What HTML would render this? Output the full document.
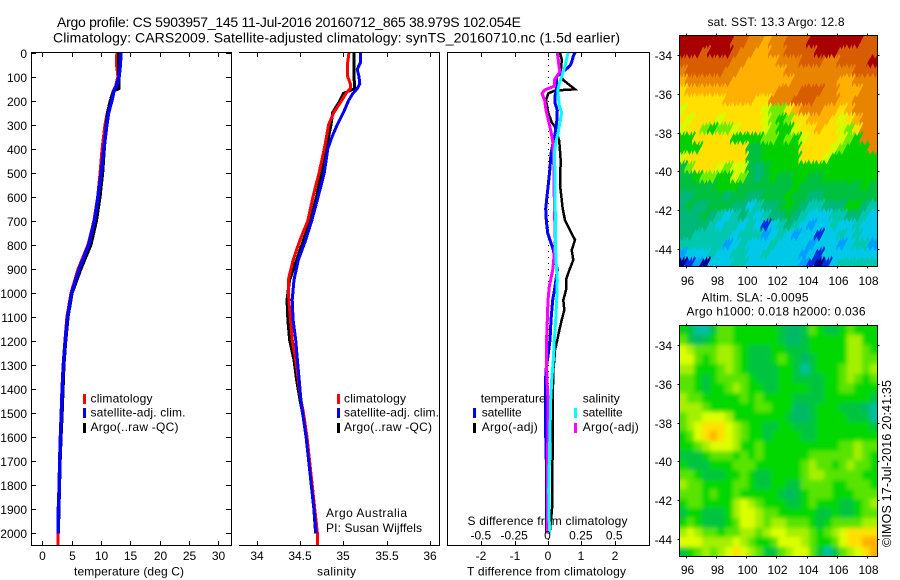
<!DOCTYPE html>
<html lang="en">
<head>
<meta charset="utf-8">
<title>Argo profile 5903957_145</title>
<style>
html,body{margin:0;padding:0;background:#fff}
svg{display:block}
text{font-family:"Liberation Sans",sans-serif;fill:#000}
</style>
</head>
<body>
<svg id="chart" xmlns="http://www.w3.org/2000/svg" width="900" height="580" viewBox="0 0 900 580">
<rect x="0" y="0" width="900" height="580" fill="#fff"/>
<text x="57" y="27" font-size="14" textLength="464" lengthAdjust="spacing">Argo profile: CS 5903957_145 11-Jul-2016 20160712_865 38.979S 102.054E</text>
<text x="53" y="42.5" font-size="14" textLength="567" lengthAdjust="spacing">Climatology: CARS2009. Satellite-adjusted climatology: synTS_20160710.nc (1.5d earlier)</text>

<text x="74" y="575.5" font-size="12" textLength="110" lengthAdjust="spacing">temperature (deg C)</text>
<text x="317" y="575.5" font-size="12" textLength="39" lengthAdjust="spacing">salinity</text>
<text x="467" y="575.5" font-size="12" textLength="159" lengthAdjust="spacing">T difference from climatology</text>
<text x="467.5" y="525" font-size="12" textLength="160" lengthAdjust="spacing">S difference from climatology</text>

<text x="326" y="517" font-size="12" textLength="81" lengthAdjust="spacing">Argo Australia</text>
<text x="326" y="532" font-size="12" textLength="96" lengthAdjust="spacing">PI: Susan Wijffels</text>

<g>
<rect x="83" y="394" width="3" height="10" fill="#ff0000"/>
<text x="90.5" y="402.7" font-size="12" textLength="62" lengthAdjust="spacing">climatology</text>
<rect x="83" y="408" width="3" height="10" fill="#0000ff"/>
<text x="90.5" y="416.7" font-size="12" textLength="95" lengthAdjust="spacing">satellite-adj. clim.</text>
<rect x="83" y="423" width="3" height="10" fill="#000"/>
<text x="90.5" y="431" font-size="12" textLength="88" lengthAdjust="spacing">Argo(..raw -QC)</text>
</g>
<g>
<rect x="337" y="394" width="3" height="10" fill="#ff0000"/>
<text x="344" y="402.7" font-size="12" textLength="62" lengthAdjust="spacing">climatology</text>
<rect x="337" y="408" width="3" height="10" fill="#0000ff"/>
<text x="344" y="416.7" font-size="12" textLength="95" lengthAdjust="spacing">satellite-adj. clim.</text>
<rect x="337" y="423" width="3" height="10" fill="#000"/>
<text x="344" y="431" font-size="12" textLength="88" lengthAdjust="spacing">Argo(..raw -QC)</text>
</g>

<text x="707.5" y="26" font-size="12" textLength="137" lengthAdjust="spacing">sat. SST: 13.3 Argo: 12.8</text>
<text x="701.5" y="301.7" font-size="12" textLength="107" lengthAdjust="spacing">Altim. SLA: -0.0095</text>
<text x="686.5" y="315.7" font-size="12" textLength="179" lengthAdjust="spacing">Argo h1000: 0.018 h2000: 0.036</text>
<text transform="translate(891,547) rotate(-90)" x="0" y="0" font-size="12.5" textLength="167" lengthAdjust="spacing">©IMOS 17-Jul-2016 20:41:35</text>
</svg>
<script>
// ---- profile values ----
const depthTicks = [0,100,200,300,400,500,600,700,800,900,1000,1100,1200,1300,1400,1500,1600,1700,1800,1900,2000];
const tempTicks = [0,5,10,15,20,25,30];
const salTicks = [34,34.5,35,35.5,36];
const salTickLabels = ['34','34.5','35','35.5','36'];
const tDiffTicks = [-2,-1,0,1,2];
const sDiffTicks = [-0.5,-0.25,0,0.25,0.5];
const sDiffTickLabels = ['-0.5','-0.25','0','0.25','0.5'];
const lonTicks = [96,98,100,102,104,106,108];
const latTicks = [-34,-36,-38,-40,-42,-44];

const tempDepths = [0,50,100,140,150,160,175,200,250,300,400,500,600,700,800,900,1000,1100,1200,1300,1400,1500,1600,1700,1800,1900,2000,2050];
const tempClim = [12.7,12.65,12.9,12.5,12.3,12.1,11.9,11.7,11.1,10.7,10.2,9.85,9.45,8.8,7.8,6.1,4.9,4.2,3.85,3.55,3.35,3.2,3.05,2.93,2.85,2.72,2.67,2.67];
const tempArgo = [13.0,13.0,13.05,13.05,13.05,12.2,11.9,11.6,11.1,10.9,10.6,10.3,9.85,9.25,8.3,6.6,5.1,4.4,4.0,3.7,3.55,3.4,3.2,3.05,2.95,2.85,2.75];
const tempSat = [13.4,13.3,13.1,12.6,12.4,12.2,12.1,11.85,11.3,11.0,10.5,10.05,9.5,8.9,7.9,6.3,5.0,4.3,3.9,3.6,3.4,3.25,3.1,2.97,2.9,2.75,2.7];

const salDepths = [0,40,70,100,130,150,170,200,250,300,350,400,500,600,700,780,863,946,1029,1113,1196,1279,1362,1445,1500,1600,1700,1800,1900,2000,2050];
const salClim = [35.065,35.05,35.045,35.05,35.08,35.08,35.03,34.98,34.89,34.83,34.805,34.78,34.72,34.65,34.59,34.5,34.42,34.365,34.37,34.39,34.41,34.45,34.48,34.51,34.54,34.58,34.61,34.64,34.67,34.7,34.7];
const salArgo = [35.12,35.12,35.12,35.12,35.13,35.13,35.0,34.96,34.877,34.857,34.83,34.81,34.75,34.69,34.62,34.54,34.46,34.38,34.35,34.36,34.38,34.43,34.46,34.5,34.53,34.57,34.6,34.63,34.66,34.68];
const salSat = [35.2,35.2,35.16,35.18,35.19,35.16,35.11,35.06,35.0,34.93,34.87,34.82,34.78,34.71,34.635,34.565,34.48,34.43,34.41,34.42,34.45,34.47,34.49,34.51,34.53,34.57,34.6,34.63,34.66,34.685];

const tDiffArgoDepths = [0,30,60,90,115,153,158,170,200,250,290,310,330,370,450,550,650,697,739,780,822,863,905,946,988,1030,1071,1113,1155,1196,1238,1280,1321,1445,1600,1800,1900,2000];
const tDiffArgo = [0.36,0.41,0.40,0.36,0.46,0.81,0.21,0.01,-0.06,0.01,0.11,0.21,0.26,0.34,0.38,0.36,0.44,0.51,0.66,0.81,0.71,0.76,0.64,0.54,0.54,0.46,0.49,0.41,0.34,0.28,0.21,0.19,0.16,0.14,0.14,0.13,0.12,0.05];
const tDiffSatDepths = [0,15,40,55,70,85,100,150,180,210,240,290,340,370,420,480,550,610,650,697,752,780,822,905,974,1030,1113,1196,1252,1321,1390,1520,1700,2000];
const tDiffSat = [0.81,0.76,0.71,0.66,0.54,0.38,0.26,0.26,0.21,0.21,0.28,0.26,0.21,0.16,0.09,0.06,0.01,-0.04,-0.07,-0.05,-0.01,0.06,0.16,0.28,0.21,0.14,0.09,0.06,0.01,-0.06,-0.08,-0.08,-0.05,-0.05];
const sDiffSatDepths = [0,15,40,70,100,130,160,180,220,250,290,330,370,420,500,690,780,863,946,1030,1113,1196,1280,1362,1445,1820,1960,2000];
const sDiffSat = [0.1525,0.145,0.135,0.12,0.1025,0.085,0.0725,0.0775,0.085,0.1025,0.09,0.0775,0.06,0.0475,0.0525,0.055,0.055,0.06,0.07,0.065,0.0575,0.0475,0.04,0.0275,0.02,0.005,0.01,0.01];
const sDiffArgoDepths = [0,30,60,80,100,115,140,155,170,200,240,280,330,370,450,550,690,780,850,905,974,1030,1113,1182,1321,1390,1445,1960,2000];
const sDiffArgo = [0.07,0.0775,0.0825,0.09,0.065,0.0475,0.0475,-0.0225,-0.045,-0.025,-0.015,0.0025,0.0225,0.035,0.0425,0.045,0.05,0.055,0.045,0.035,0.01,0,-0.005,-0.01,-0.01,-0.005,0,-0.005,-0.005];

// ---- map values: colour-class per grid cell, north to south ----
const sstGrid = [
[14,14,14,14,14,14,14,13,13,12,12,11,12,12,13,13,13,14,14,14,14,14,14,14,13,13],
[14,14,14,13,14,14,14,13,12,12,11,11,12,12,13,13,13,13,14,14,14,13,13,13,13,13],
[13,13,13,13,13,13,13,12,12,11,11,11,11,12,12,12,13,13,13,12,12,13,13,13,13,14],
[12,13,13,13,13,13,12,12,11,11,11,11,11,11,12,12,12,12,12,12,12,12,12,13,13,13],
[11,12,12,12,12,12,12,11,11,11,11,11,11,11,11,12,12,12,12,12,12,11,11,12,12,12],
[10,11,11,11,11,11,11,11,11,11,11,11,11,12,12,12,13,13,13,12,12,11,11,11,12,12],
[10,10,10,10,10,10,11,11,11,11,10,10,12,12,12,13,13,13,12,12,12,11,11,12,12,12],
[9,10,10,10,10,10,10,10,10,10,10,9,8,8,10,11,12,12,12,11,11,10,11,12,12,12],
[10,9,10,10,10,9,10,10,10,10,10,9,8,7,8,10,10,11,11,11,10,9,10,11,12,12],
[9,10,10,8,7,8,8,9,10,10,10,9,8,7,7,9,10,10,11,10,10,9,8,10,12,12],
[7,7,10,10,10,10,10,7,7,7,7,8,8,7,8,7,9,10,10,10,10,9,8,7,12,12],
[7,7,7,10,10,10,10,10,10,6,6,7,7,7,7,7,10,10,10,10,9,8,7,7,7,12],
[9,10,10,10,10,10,10,10,10,6,6,7,7,7,7,7,10,10,10,9,7,7,7,7,7,7],
[6,8,10,10,10,9,8,9,9,6,5,6,7,7,7,7,7,7,7,7,7,7,7,7,7,7],
[6,6,7,8,8,7,7,9,8,6,5,6,7,6,6,7,7,6,6,7,7,7,7,7,7,7],
[6,6,6,6,6,7,7,7,6,6,6,6,6,6,6,7,6,6,6,6,6,6,6,6,7,6],
[5,5,6,6,6,6,5,6,6,5,5,6,6,6,7,6,6,5,5,6,6,6,6,6,6,6],
[5,6,5,5,6,6,6,5,5,3,4,5,5,6,7,6,5,4,4,5,5,5,7,7,5,4],
[5,5,5,6,5,4,3,4,5,4,3,4,5,5,6,5,4,3,3,3,4,4,5,5,4,3],
[5,5,5,5,4,3,4,4,3,4,3,1,3,4,5,4,3,2,3,3,4,3,3,4,3,3],
[5,5,4,4,4,4,4,3,4,4,4,2,3,4,3,2,3,3,1,3,3,4,3,4,3,3],
[4,4,4,4,4,4,2,3,4,3,3,3,4,3,3,3,3,2,3,3,3,2,3,4,4,2],
[2,3,3,3,4,3,3,4,4,3,3,4,3,3,3,3,2,3,1,3,3,3,3,3,3,3],
[0,1,2,0,3,3,3,4,4,3,3,3,3,3,3,3,2,1,0,1,3,4,4,4,4,4]
];
const slaGrid = [
[4,3,1,1,3,5,5,4,4,4,4,4,4,3,2,2,3,5,4,3,3,4,5,4,4,4],
[5,3,2,3,4,5,5,4,4,4,4,4,4,3,2,2,3,4,4,4,4,4,6,6,4,4],
[7,6,5,5,5,6,6,5,4,3,3,3,4,4,3,3,3,4,4,4,4,4,6,6,5,4],
[7,7,5,4,5,6,6,5,4,3,3,3,4,5,4,3,2,3,4,4,4,4,6,6,5,5],
[6,6,4,4,4,5,6,5,4,3,3,3,3,4,4,3,1,3,4,4,4,5,6,6,5,6],
[5,5,4,3,4,5,5,5,5,4,3,3,3,4,4,3,3,3,3,4,4,5,6,5,4,5],
[5,5,4,3,4,4,5,6,5,4,4,3,3,4,4,4,4,3,3,4,4,5,5,4,4,4],
[6,5,5,4,4,4,4,4,5,4,5,4,4,4,4,3,3,3,3,4,4,4,4,4,4,3],
[6,6,6,5,4,4,4,4,4,4,5,5,4,4,4,2,2,3,4,4,4,3,3,3,2,1],
[5,6,6,7,7,7,6,4,4,4,4,4,4,4,3,2,2,3,4,4,4,4,3,3,3,1],
[5,6,7,8,8,8,7,6,5,4,4,3,3,4,4,3,3,3,4,4,4,4,4,4,4,3],
[4,5,7,8,9,8,7,6,5,4,4,3,4,4,4,4,3,3,4,4,4,4,4,4,4,4],
[4,4,5,6,7,7,7,6,4,4,5,4,4,4,4,4,4,4,4,4,4,5,5,6,5,5],
[3,3,3,4,5,5,5,4,5,4,5,4,4,4,4,4,4,5,5,5,5,5,5,6,5,4],
[4,3,3,3,4,4,4,5,5,5,4,4,4,4,4,4,5,6,5,5,4,5,6,5,5,4],
[5,5,4,3,3,3,4,4,5,4,3,3,4,4,4,4,5,6,6,5,5,5,5,5,4,4],
[6,5,5,4,4,4,4,5,5,4,3,3,4,4,3,3,5,5,5,5,4,4,5,5,5,4],
[5,5,5,4,5,4,4,5,4,4,4,4,4,3,2,3,4,5,5,5,4,4,4,5,5,5],
[4,5,5,4,4,4,4,6,7,6,5,4,4,4,3,3,4,5,4,4,4,3,3,4,5,6],
[3,4,4,3,3,3,4,6,7,7,6,5,5,4,4,4,4,4,3,3,4,3,3,4,5,5],
[4,5,4,3,3,3,4,5,7,7,6,5,6,6,5,5,5,4,3,4,5,5,5,5,6,6],
[6,7,6,5,5,4,5,5,6,6,5,6,7,7,6,6,6,5,4,5,6,7,8,8,8,8],
[7,7,7,6,6,6,6,7,6,5,4,4,5,7,7,7,6,5,4,4,5,7,8,8,9,9],
[3,4,5,6,5,6,7,8,7,6,5,3,3,5,6,7,7,5,3,1,3,5,6,7,8,9]
];

const SVGNS = 'http://www.w3.org/2000/svg';
const svg = document.getElementById('chart');

// axis functions
function yDepth(d){ return 52.5 + d * 0.2404; }
function xTemp(t){ return 42.3 + t * 5.863; }
function xSal(s){ return 256.7 + (s - 34) * 86.67; }
function xTDiff(d){ return 548 + d * 33.33; }
function xSDiff(d){ return 548 + d * 133.33; }
function xLon(lon){ return 686.3 + (lon - 96) * 15.03; }
function yLatSst(lat){ return 55 + (-34 - lat) * 19.4; }
function yLatSla(lat){ return 345 + (-34 - lat) * 19.4; }

function make(tag, attrs, parent){
  const el = document.createElementNS(SVGNS, tag);
  for (const k in attrs) el.setAttribute(k, attrs[k]);
  parent.appendChild(el);
  return el;
}
function hLine(x1, x2, y, parent){
  return make('line', {x1:x1, x2:x2, y1:y, y2:y, stroke:'#000', 'stroke-width':1, 'shape-rendering':'crispEdges'}, parent);
}
function vLine(x, y1, y2, parent){
  return make('line', {x1:x, x2:x, y1:y1, y2:y2, stroke:'#000', 'stroke-width':1, 'shape-rendering':'crispEdges'}, parent);
}
function label(str, x, y, anchor, parent){
  const t = make('text', {x:x, y:y, 'text-anchor':anchor, 'font-size':12}, parent);
  t.textContent = str;
  return t;
}
function profile(depths, values, xFn, color, width, name, parent){
  const pts = values.map(function(v, i){ return xFn(v).toFixed(1) + ',' + yDepth(depths[i]).toFixed(1); }).join(' ');
  const line = make('polyline', {points:pts, fill:'none', stroke:color, 'stroke-width':width, 'stroke-linejoin':'miter', 'shape-rendering':'crispEdges'}, parent);
  
  
  return line;
}

// ---- left temperature panel ----
const tempPanel = make('g', {}, svg);


profile(tempDepths, tempClim, xTemp, '#ff0000', 3, 'temperature-climatology-line', tempPanel);
profile(tempDepths, tempArgo, xTemp, '#000000', 3, 'temperature-argo-line', tempPanel);
profile(tempDepths, tempSat, xTemp, '#0000ff', 3.5, 'temperature-satellite-line', tempPanel);
const tempFrame = make('rect', {x:31.5, y:52.5, width:200, height:493, fill:'none', stroke:'#000', 'shape-rendering':'crispEdges'}, tempPanel);


depthTicks.forEach(function(d){
  const y = Math.round(yDepth(d)) + 0.5;
  const left = hLine(31.5, 36, y, tempPanel);
  
  
  const right = hLine(226, 231.5, y, tempPanel);
  
  
  const lab = label(String(d), 27, y + 4.5, 'end', tempPanel);
  
  
});
tempTicks.forEach(function(t){
  const x = Math.round(xTemp(t)) + 0.5;
  const top = vLine(x, 52.5, 57, tempPanel);
  
  
  const bot = vLine(x, 541, 545.5, tempPanel);
  
  
  const lab = label(String(t), x, 560, 'middle', tempPanel);
  
  
});

// ---- salinity panel ----
const salPanel = make('g', {}, svg);


profile(salDepths, salArgo, xSal, '#000000', 3, 'salinity-argo-line', salPanel);
profile(salDepths, salClim, xSal, '#ff0000', 3, 'salinity-climatology-line', salPanel);
profile(salDepths, salSat, xSal, '#0000ff', 3, 'salinity-satellite-line', salPanel);
const salFrame = make('path', {d:'M239 52.5H439.5V545.5H239', fill:'none', stroke:'#000', 'shape-rendering':'crispEdges'}, salPanel);


salTicks.forEach(function(s, i){
  const x = Math.round(xSal(s)) + 0.5;
  const top = vLine(x, 52.5, 57, salPanel);
  
  
  const bot = vLine(x, 541, 545.5, salPanel);
  
  
  const lab = label(salTickLabels[i], x - 0.5, 560, 'middle', salPanel);
  
  
});

// ---- difference panel ----
const diffPanel = make('g', {}, svg);


const zeroLine = make('line', {x1:xTDiff(0)+0.5, x2:xTDiff(0)+0.5, y1:53, y2:545, stroke:'#000', 'stroke-width':1, 'stroke-dasharray':'1 5', 'shape-rendering':'crispEdges'}, diffPanel);


profile(tDiffArgoDepths, tDiffArgo, xTDiff, '#000000', 2.5, 't-difference-argo-line', diffPanel);
profile(tDiffSatDepths, tDiffSat, xTDiff, '#0000ff', 3, 't-difference-satellite-line', diffPanel);
profile(sDiffArgoDepths, sDiffArgo, xSDiff, '#ff00ff', 3, 's-difference-argo-line', diffPanel);
profile(sDiffSatDepths, sDiffSat, xSDiff, '#00ffff', 3, 's-difference-satellite-line', diffPanel);
const diffFrame = make('rect', {x:447.5, y:52.5, width:202, height:493, fill:'none', stroke:'#000', 'shape-rendering':'crispEdges'}, diffPanel);


tDiffTicks.forEach(function(d){
  const x = Math.round(xTDiff(d)) + 0.5;
  const top = vLine(x, 52.5, 57, diffPanel);
  
  
  const bot = vLine(x, 541, 545.5, diffPanel);
  
  
  const lab = label(String(d), x - 0.5, 560, 'middle', diffPanel);
  
  
});
sDiffTicks.forEach(function(d, i){
  const lab = label(sDiffTickLabels[i], xSDiff(d) - 0.5, 539.3, 'middle', diffPanel);
  
  
});

// ---- diff legend ----
const diffLegend = make('g', {}, svg);


const lg1 = make('text', {x:480.7, y:402.7, 'font-size':12, textLength:65, lengthAdjust:'spacing'}, diffLegend);
lg1.textContent = 'temperature';


const lg2 = make('text', {x:582.7, y:402.7, 'font-size':12, textLength:37, lengthAdjust:'spacing'}, diffLegend);
lg2.textContent = 'salinity';


const lg3 = make('rect', {x:473, y:408, width:3, height:10, fill:'#0000ff'}, diffLegend);


const lg4 = make('text', {x:481.7, y:416.7, 'font-size':12, textLength:40, lengthAdjust:'spacing'}, diffLegend);
lg4.textContent = 'satellite';


const lg5 = make('rect', {x:473, y:423, width:3, height:10, fill:'#000'}, diffLegend);


const lg6 = make('text', {x:481.7, y:431, 'font-size':12, textLength:56, lengthAdjust:'spacing'}, diffLegend);
lg6.textContent = 'Argo(-adj)';


const lg7 = make('rect', {x:574, y:408, width:3, height:10, fill:'#00ffff'}, diffLegend);


const lg8 = make('text', {x:582.7, y:416.7, 'font-size':12, textLength:40, lengthAdjust:'spacing'}, diffLegend);
lg8.textContent = 'satellite';


const lg9 = make('rect', {x:574, y:423, width:3, height:10, fill:'#ff00ff'}, diffLegend);


const lg10 = make('text', {x:582.7, y:431, 'font-size':12, textLength:56, lengthAdjust:'spacing'}, diffLegend);
lg10.textContent = 'Argo(-adj)';



// ---- maps ----
const sstColours = ['#000090','#0030e0','#00a0ff','#00c8e8','#00c8b0','#00b878','#00c040','#00d000','#70ec00','#d4ff00','#ffe000','#ffb000','#e88400','#d85c00','#a80000'];
const slaColours = ['#00c8c0','#00c0a0','#00b868','#00c440','#00d800','#58e400','#a4f000','#dcff00','#ffe000','#ffb000'];
const LON_MIN = 95.53, LON_MAX = 108.7, LAT_TOP = -33, LAT_BOTTOM = -44.9;

// Block cells: straight-edged rectangles.
function drawCells(grid, colours, yLat, parent, cellName, pad){
  const rows = grid.length;
  grid.forEach(function(row, r){
    const cols = row.length;
    row.forEach(function(level, c){
      const lonA = LON_MIN + (LON_MAX - LON_MIN) * c / cols;
      const lonB = LON_MIN + (LON_MAX - LON_MIN) * (c + 1) / cols;
      const latA = LAT_TOP + (LAT_BOTTOM - LAT_TOP) * r / rows;
      const latB = LAT_TOP + (LAT_BOTTOM - LAT_TOP) * (r + 1) / rows;
      let x0 = Math.round(xLon(lonA)), x1 = Math.round(xLon(lonB));
      let y0 = Math.round(yLat(latA)), y1 = Math.round(yLat(latB));
      if (c === 0) x0 -= pad;
      if (c === cols - 1) x1 += pad;
      if (r === 0) y0 -= pad;
      if (r === rows - 1) y1 += pad;
      const cell = make('rect', {x:x0, y:y0, width:x1 - x0, height:y1 - y0, fill:colours[level], 'shape-rendering':'crispEdges'}, parent);
      
      
    });
  });
}
// Serrated cells: sheared sides and a saw-tooth lower edge, painted south to north.
function drawSerratedCells(grid, colours, yLat, parent, cellName){
  const rows = grid.length;
  const shear = 5, toothW = 5, toothH = 5, pad = 8;
  for (let r = rows - 1; r >= 0; r--) {
    const row = grid[r];
    const cols = row.length;
    row.forEach(function(level, c){
      const lonA = LON_MIN + (LON_MAX - LON_MIN) * c / cols;
      const lonB = LON_MIN + (LON_MAX - LON_MIN) * (c + 1) / cols;
      const latA = LAT_TOP + (LAT_BOTTOM - LAT_TOP) * r / rows;
      const latB = LAT_TOP + (LAT_BOTTOM - LAT_TOP) * (r + 1) / rows;
      let x0 = xLon(lonA) - shear / 2, x1 = xLon(lonB) - shear / 2;
      const y0 = yLat(latA) - 1, y1 = yLat(latB) - 1;
      if (c === 0) x0 -= pad;
      if (c === cols - 1) x1 += pad;
      const pts = [[x0 + shear, y0], [x1 + shear, y0], [x1, y1]];
      for (let x = x1; x > x0 + 0.01; x -= toothW) {
        pts.push([x - toothW / 2, y1 + toothH]);
        pts.push([Math.max(x - toothW, x0), y1]);
      }
      const cell = make('polygon', {points:pts.map(function(p){ return p[0].toFixed(1) + ',' + p[1].toFixed(1); }).join(' '), fill:colours[level], 'shape-rendering':'crispEdges'}, parent);
      
      
    });
  }
}
function mapAxes(yLat, top, bottom, labelY, parent, prefix){
  const frame = make('rect', {x:679.5, y:top, width:198, height:bottom - top, fill:'none', stroke:'#000', 'shape-rendering':'crispEdges'}, parent);
  
  
  lonTicks.forEach(function(lon){
    const x = Math.round(xLon(lon)) + 0.5;
    const t1 = vLine(x, top - 2, top, parent);
    
    
    const t2 = vLine(x, bottom, bottom + 2, parent);
    
    
    const lab = label(String(lon), x + 1, labelY, 'middle', parent);
    
    
  });
  latTicks.forEach(function(lat){
    const y = Math.round(yLat(lat)) + 0.5;
    const t1 = hLine(677.5, 679.5, y, parent);
    
    
    const t2 = hLine(877.5, 879.5, y, parent);
    
    
    const lab = label(String(lat), 672, y + 4.5, 'end', parent);
    
    
  });
}

const defs = make('defs', {}, svg);
const clip = make('clipPath', {id:'slaClip'}, defs);
make('rect', {x:679.5, y:325.5, width:198, height:231}, clip);
const sstClip = make('clipPath', {id:'sstClip'}, defs);
make('rect', {x:679.5, y:35.5, width:198, height:231}, sstClip);
const blur = make('filter', {id:'slaBlur', x:'-5%', y:'-5%', width:'110%', height:'110%'}, defs);
make('feGaussianBlur', {stdDeviation:2}, blur);

const sstMap = make('g', {}, svg);


const sstClipGroup = make('g', {'clip-path':'url(#sstClip)'}, sstMap);


drawSerratedCells(sstGrid, sstColours, yLatSst, sstClipGroup, 'sst-cell');
mapAxes(yLatSst, 35.5, 266.5, 285, sstMap, 'sst');

const slaMap = make('g', {}, svg);


const slaClipGroup = make('g', {'clip-path':'url(#slaClip)'}, slaMap);


const slaCells = make('g', {filter:'url(#slaBlur)'}, slaClipGroup);


drawCells(slaGrid, slaColours, yLatSla, slaCells, 'sla-cell', 14);
mapAxes(yLatSla, 325.5, 556.5, 574, slaMap, 'sla');
</script>
</body>
</html>
